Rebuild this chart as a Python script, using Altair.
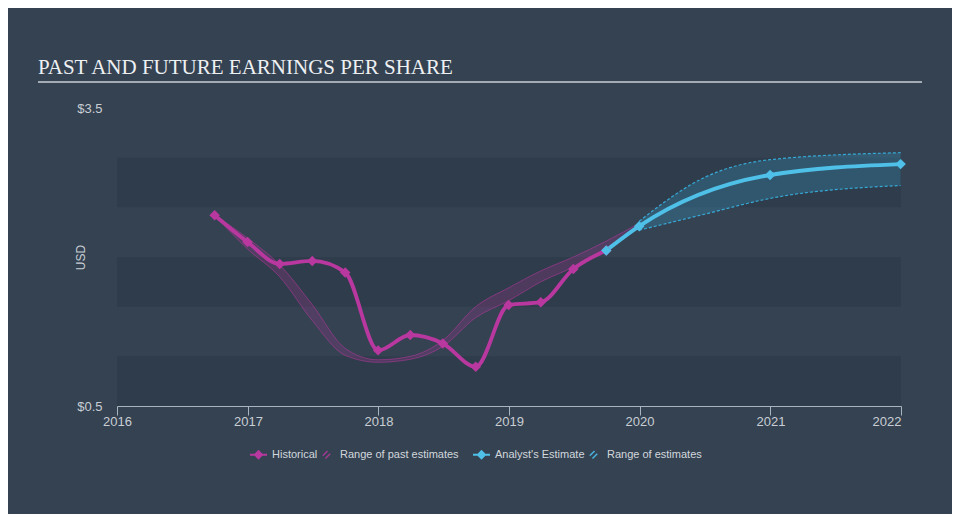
import altair as alt
import pandas as pd

# ---------------- data ----------------
hist_dates = ["2016-09-30", "2016-12-31", "2017-03-31", "2017-06-30", "2017-09-30",
              "2017-12-31", "2018-03-31", "2018-06-30", "2018-09-30", "2018-12-31",
              "2019-03-31", "2019-06-30", "2019-09-30"]
hist_eps = [2.42, 2.15, 1.93, 1.96, 1.845, 1.06, 1.215, 1.13, 0.895, 1.517, 1.545, 1.88, 2.065]

fc_dates = ["2019-09-30", "2019-12-31", "2020-12-31", "2021-12-31"]
fc_eps = [2.065, 2.31, 2.826, 2.935]

past_rng_dates = ["2016-09-30", "2016-12-31", "2017-03-31", "2017-06-30", "2017-09-30",
                  "2017-12-31", "2018-03-31", "2018-06-30", "2018-09-30", "2018-12-31",
                  "2019-03-31", "2019-06-30", "2019-09-30", "2019-12-31"]
past_low = [2.42, 2.08, 1.80, 1.36, 1.01, 0.94, 0.97, 1.10, 1.39, 1.56, 1.75, 1.90, 2.09, 2.31]
past_high = [2.42, 2.19, 1.92, 1.52, 1.08, 0.965, 1.0, 1.16, 1.50, 1.69, 1.86, 2.00, 2.16, 2.34]

fut_rng_dates = ["2019-12-31", "2020-06-30", "2020-12-31", "2021-12-31"]
fut_low = [2.27, 2.43, 2.59, 2.72]
fut_high = [2.36, 2.80, 2.98, 3.05]

band_low = [0.5, 1.5, 2.5]
band_high = [1.0, 2.0, 3.0]

past_labels = ["Historical", "Range of past estimates"]
fut_labels = ["Analyst's Estimate", "Range of estimates"]
title_text = "PAST AND FUTURE EARNINGS PER SHARE"

# ---------------- styling ----------------
BG = "#344252"
BAND = "#2f3c4b"
MAG = "#b9389f"
CYAN = "#4fc1e9"
CYAN_EDGE = "#36a9d6"
TXT = "#c9ced4"
FONT = "Liberation Sans"

W, H = 784, 298

def t(d):
    return d + "T00:00:00"

hist_df = pd.DataFrame({"date": [t(d) for d in hist_dates], "eps": hist_eps})
fc_df = pd.DataFrame({"date": [t(d) for d in fc_dates], "eps": fc_eps})
past_df = pd.DataFrame({"date": [t(d) for d in past_rng_dates], "low": past_low, "high": past_high})
fut_df = pd.DataFrame({"date": [t(d) for d in fut_rng_dates], "low": fut_low, "high": fut_high})
band_df = pd.DataFrame({"lo": band_low, "hi": band_high})

x_scale = alt.Scale(domain=[alt.DateTime(year=2016, month=1, date=1),
                            alt.DateTime(year=2022, month=1, date=1)])
y_scale = alt.Scale(domain=[0.5, 3.5], nice=False, zero=False)

x_axis = alt.Axis(
    values=[alt.DateTime(year=y, month=1, date=1) for y in range(2016, 2023)],
    format="%Y", title=None, grid=False,
    domainColor="#aab4bf", tickColor="#aab4bf", tickSize=9, labelPadding=0,
    labelColor=TXT, labelFont=FONT, labelFontSize=13, labelFlush=False,
    labelAlign={"condition": {"test": "year(datum.value) >= 2022", "value": "right"}, "value": "center"},
)
y_axis = alt.Axis(
    values=[0.5, 3.5], format="$.1f", grid=False, ticks=False, domain=False,
    labelColor=TXT, labelFont=FONT, labelFontSize=13, labelPadding=15,
    title="USD", titleColor=TXT, titleFont=FONT, titleFontSize=12, titleFontWeight="normal",
    titleAngle=270, titleX=-30, titleY=H / 2, titleAlign="center", titleBaseline="bottom",
)

X = alt.X("date:T", scale=x_scale, axis=x_axis)

bands = alt.Chart(band_df).mark_rect(color=BAND).encode(
    y=alt.Y("lo:Q", scale=y_scale, axis=y_axis), y2="hi:Q",
    x=alt.value(0), x2=alt.value(W),
)

past_area = alt.Chart(past_df).mark_area(interpolate="monotone", color=MAG, opacity=0.22).encode(
    x=X, y=alt.Y("low:Q", scale=y_scale, axis=y_axis), y2="high:Q")
past_lo = alt.Chart(past_df).mark_line(interpolate="monotone", color=MAG, strokeWidth=0.8, opacity=0.7).encode(
    x="date:T", y="low:Q")
past_hi = alt.Chart(past_df).mark_line(interpolate="monotone", color=MAG, strokeWidth=0.8, opacity=0.7).encode(
    x="date:T", y="high:Q")

fut_area = alt.Chart(fut_df).mark_area(interpolate="monotone", color=CYAN_EDGE, opacity=0.25).encode(
    x="date:T", y="low:Q", y2="high:Q")
fut_lo = alt.Chart(fut_df).mark_line(interpolate="monotone", color=CYAN_EDGE, strokeWidth=1.2,
                                     strokeDash=[3, 2]).encode(x="date:T", y="low:Q")
fut_hi = alt.Chart(fut_df).mark_line(interpolate="monotone", color=CYAN_EDGE, strokeWidth=1.2,
                                     strokeDash=[3, 2]).encode(x="date:T", y="high:Q")

hist_line = alt.Chart(hist_df).mark_line(interpolate="monotone", color=MAG, strokeWidth=3.8).encode(
    x="date:T", y="eps:Q")
hist_pts = alt.Chart(hist_df).mark_point(shape="diamond", filled=True, color=MAG, size=110, opacity=1).encode(
    x="date:T", y="eps:Q")
fc_line = alt.Chart(fc_df).mark_line(interpolate="monotone", color=CYAN, strokeWidth=4).encode(
    x="date:T", y="eps:Q")
fc_pts = alt.Chart(fc_df).mark_point(shape="diamond", filled=True, color=CYAN, size=110, opacity=1).encode(
    x="date:T", y="eps:Q")

title = alt.Chart(pd.DataFrame({"t": [title_text]})).mark_text(
    font="Liberation Serif", fontSize=21, color="#eef0f2", align="left", baseline="alphabetic"
).encode(text="t:N", x=alt.value(-79), y=alt.value(-34))
underline = alt.Chart(pd.DataFrame({"a": [0]})).mark_rule(color="#a3abb4", strokeWidth=2).encode(
    x=alt.value(-79), x2=alt.value(805), y=alt.value(-26))

LINE_DIAMOND = ("M-1,-0.13L-0.46,-0.13L0,-0.59L0.46,-0.13L1,-0.13L1,0.13"
                "L0.46,0.13L0,0.59L-0.46,0.13L-1,0.13Z")
HATCH = ("M-0.5,0.06L0.06,-0.5L0.18,-0.38L-0.38,0.18Z "
         "M-0.18,0.38L0.38,-0.18L0.5,-0.06L-0.06,0.5Z")

def legend(x):
    return alt.Legend(orient="none", legendX=x, legendY=338, direction="horizontal", title=None,
                      labelColor="#d3d7dc", labelFont=FONT, labelFontSize=11, symbolSize=289,
                      labelOffset=5, columnPadding=0, padding=0, symbolStrokeWidth=0,
                      symbolOpacity=1)

leg_past = alt.Chart(pd.DataFrame({"s": past_labels})).mark_point(filled=True, opacity=1, size=289).encode(
    x=alt.value(-3000), y=alt.value(-3000),
    color=alt.Color("s:N", scale=alt.Scale(domain=past_labels, range=[MAG, "#a23a92"]), legend=legend(133)),
    shape=alt.Shape("s:N", scale=alt.Scale(domain=past_labels, range=[LINE_DIAMOND, HATCH]), legend=legend(133)),
)
leg_fut = alt.Chart(pd.DataFrame({"f": fut_labels})).mark_point(filled=True, opacity=1, size=289).encode(
    x=alt.value(-3000), y=alt.value(-3000),
    color=alt.Color("f:N", scale=alt.Scale(domain=fut_labels, range=[CYAN, "#49b4df"]), legend=legend(356)),
    shape=alt.Shape("f:N", scale=alt.Scale(domain=fut_labels, range=[LINE_DIAMOND, HATCH]), legend=legend(356)),
)

chart = alt.layer(
    bands, past_area, past_lo, past_hi, fut_area, fut_lo, fut_hi,
    hist_line, fc_line, hist_pts, fc_pts, title, underline, leg_past, leg_fut,
).resolve_scale(color="independent", shape="independent").resolve_legend(
    color="independent", shape="independent"
).properties(
    width=W, height=H,
    autosize=alt.AutoSizeParams(type="none"),
    padding={"left": 109, "top": 100, "right": 51, "bottom": 108},
    background=BG,
).configure_view(stroke=None)

chart.save("out.html", embed_options={"renderer": "svg", "actions": False})
